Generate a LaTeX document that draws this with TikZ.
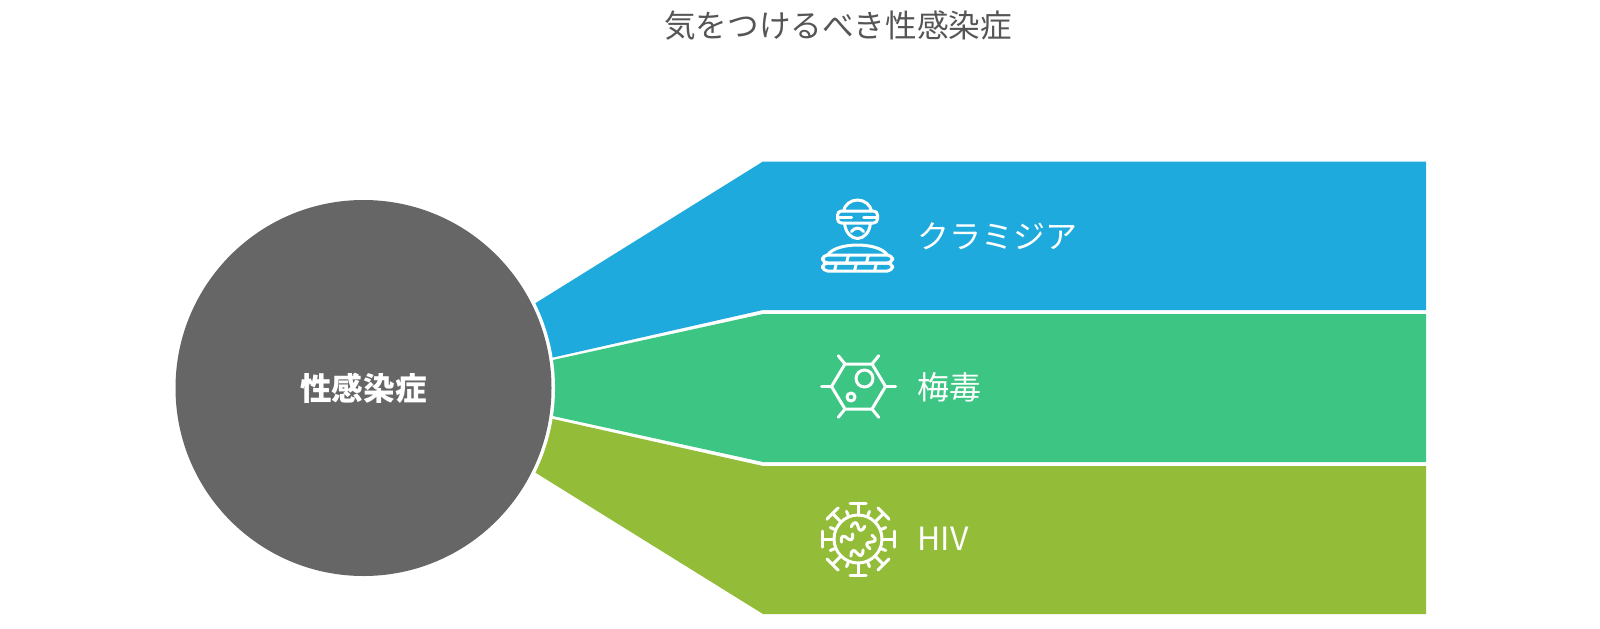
\documentclass[tikz,border=0pt]{standalone}
\usepackage{fontspec}
\setmainfont{Noto Sans CJK JP}
\usetikzlibrary{calc}
\definecolor{bandblue}{HTML}{1EAADC}
\definecolor{bandgreen}{HTML}{3CC583}
\definecolor{bandolive}{HTML}{93BC39}
\definecolor{hubgray}{HTML}{666666}
\definecolor{titlegray}{HTML}{555555}
\tikzset{
  icon/.style={draw=white,line width=1.5pt,line cap=round,line join=round},
  label/.style={text=white,font=\fontsize{16}{18}\selectfont,anchor=west,inner sep=0pt}
}
\newcommand{\thief}[1]{
  \begin{scope}[shift={#1},icon]
    \draw (-14,-25) .. controls (-13,-31) and (-7,-36) .. (0,-36) .. controls (7,-36) and (13,-31) .. (14,-25);
    \draw (-13,-13) .. controls (-12,-3) and (-6,2.5) .. (0,2.5) .. controls (6,2.5) and (12,-3) .. (13,-13);
    \draw[rounded corners=2pt] (-20,-25) rectangle (20,-13);
    \draw (-20,-19) -- (-6,-19) (6,-19) -- (20,-19);
    \draw (-6,-4.5) .. controls (-3,-9) and (3,-9) .. (6,-4.5);
    \draw (-30,19) .. controls (-25,12) and (-12,9) .. (0,9) .. controls (12,9) and (25,12) .. (30,19);
    \draw[rounded corners=2.5pt] (-35,19) rectangle (35,27);
    \draw[rounded corners=2.5pt] (-35,27) rectangle (35,35);
    \foreach \x in {-11,9} \draw (\x+2,19) -- (\x,27);
    \foreach \x in {-23,-3,17} \draw (\x+2,27) -- (\x,35);
  \end{scope}
}
\newcommand{\cell}[1]{
  \begin{scope}[shift={#1},icon]
    \draw (-27,0) -- (-13.5,-22.5) -- (13.5,-22.5) -- (27,0) -- (13.5,22.5) -- (-13.5,22.5) -- cycle;
    \draw (-27,0) -- (-37,0) (27,0) -- (37,0);
    \foreach \x/\y in {-13.5/-22.5,13.5/-22.5,-13.5/22.5,13.5/22.5}
      \draw (\x,\y) -- (\x*1.5,\y*1.37);
    \draw (6,-8) circle (8.5);
    \draw (-7.5,10.5) circle (4);
  \end{scope}
}
\newcommand{\wiggle}[3]{
  \draw[shift={(#1,#2)},rotate=#3] (-6.5,2) .. controls (-5,-5) and (-2,-4) .. (0,0) .. controls (2,4) and (5,5) .. (6.5,-2);
}
\newcommand{\virus}[1]{
  \begin{scope}[shift={#1},icon]
    \draw (0,0) circle (24);
    \foreach \a in {0,45,...,315} {
      \draw[rotate=\a] (24,0) -- (36,0) (36,-8) -- (36,8);
      \draw[rotate=\a+22.5] (24,0) -- (30,0);
    }
    \wiggle{0}{-12.5}{-15}
    \wiggle{-11}{-1}{20}
    \wiggle{13}{3}{65}
    \wiggle{-1}{14}{10}
  \end{scope}
}

\begin{document}
\begin{tikzpicture}[x=.5pt,y=-.5pt]
  \useasboundingbox (0,0) rectangle (1600,628);
  \fill[bandblue] (363,388) -- (510,319) -- (763,161.5) -- (1426,161.5) -- (1426,310) -- (763,310) -- (553,357.5) -- cycle;
  \fill[bandgreen] (363,388) -- (553,360) -- (763,314) -- (1426,314) -- (1426,462) -- (763,462) -- (553,416) -- cycle;
  \fill[bandolive] (363,388) -- (553,419) -- (763,466) -- (1426,466) -- (1426,614) -- (763,614) -- (536,473) -- (510,457) -- cycle;
  \fill[white] (363.5,388) circle (191.5);
  \node[circle,fill=hubgray,minimum size=188pt,inner sep=0pt,text=white,font=\fontsize{15.8}{18}\selectfont\bfseries] (hub) at (363.5,388) {性感染症};
  \node[text=titlegray,font=\fontsize{15.8}{18}\selectfont,inner sep=0pt] (title) at (838,26) {気をつけるべき性感染症};
  \thief{(857.5,236)}
  \cell{(858.5,386.5)}
  \virus{(858,539)}
  \node[label] (chlamydia) at (917,236) {クラミジア};
  \node[label] (syphilis) at (917,387) {梅毒};
  \node[label] (hiv) at (917,539) {HIV};
\end{tikzpicture}
\end{document}
